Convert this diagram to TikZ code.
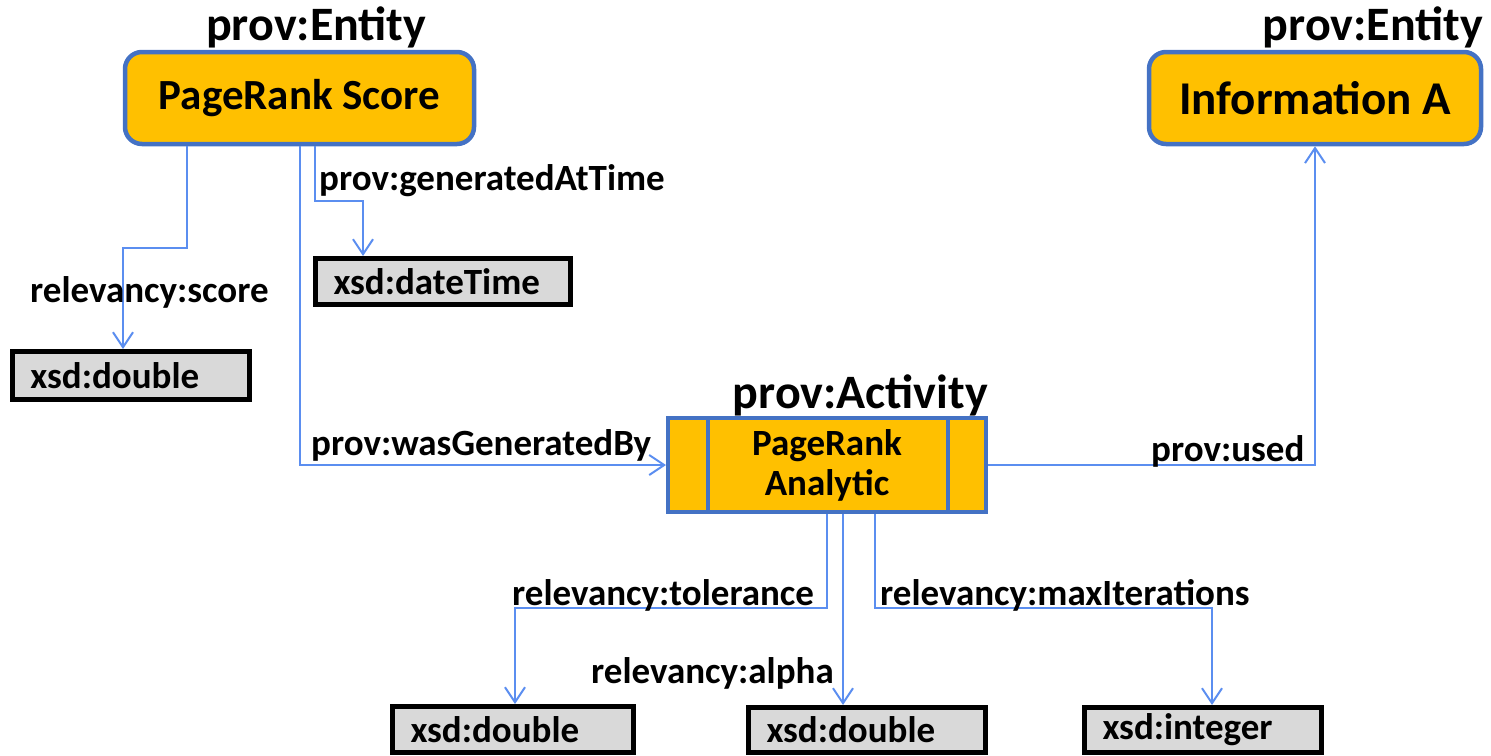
\documentclass[tikz,border=0pt]{standalone}
\usepackage{fontspec}
\setmainfont{Carlito}
\usetikzlibrary{arrows.meta}
\definecolor{gold}{RGB}{255,192,0}
\definecolor{entblue}{RGB}{68,114,196}
\definecolor{lblue}{RGB}{91,142,240}
\definecolor{lgray}{RGB}{217,217,217}
\tikzset{
  ent/.style={draw=entblue, line width=4.5pt, fill=gold, rounded corners=17pt, font=\fontsize{43}{48}\selectfont\bfseries, inner sep=0pt},
  actbox/.style={draw=entblue, line width=4pt, fill=gold, font=\fontsize{37}{40}\selectfont\bfseries, inner sep=0pt, align=center},
  actline/.style={draw=entblue, line width=4pt},
  dt/.style={draw=black, line width=5pt, fill=lgray, font=\fontsize{37}{40}\selectfont\bfseries, inner ysep=0pt, inner xsep=18pt, align=left},
  typ/.style={font=\fontsize{48}{52}\selectfont\bfseries, inner sep=0pt},
  lab/.style={font=\fontsize{37}{40}\selectfont\bfseries, inner sep=0pt},
  conn/.style={draw=lblue, line width=2pt, -{Straight Barb[length=15pt,width=20pt]}}
}
\begin{document}
\begin{tikzpicture}[x=1pt,y=-1pt]
\useasboundingbox (0,0) rectangle (1491,755);
% entity and activity boxes
\node[ent, minimum width=349pt, minimum height=92pt] (prs) at (299.5,98) {\raisebox{-2pt}{PageRank Score}};
\node[ent, minimum width=332pt, minimum height=92pt, font=\fontsize{47}{52}\selectfont\bfseries] (infoA) at (1315,98) {Information A};
\node[actbox, minimum width=318pt, minimum height=94pt] (act) at (827,465) {PageRank\\Analytic};
\draw[actline] ([xshift=42pt]act.north west) -- ([xshift=42pt]act.south west);
\draw[actline] ([xshift=-40pt]act.north east) -- ([xshift=-40pt]act.south east);
% datatype boxes
\node[dt, minimum width=255pt, minimum height=46pt, text width=219pt] (dtime) at (443,281.5) {xsd:dateTime};
\node[dt, minimum width=237pt, minimum height=48pt, text width=201pt] (d1) at (131,375.5) {xsd:double};
\node[dt, minimum width=241pt, minimum height=46pt, text width=205pt] (d2) at (513,729.5) {xsd:double};
\node[dt, minimum width=237pt, minimum height=45pt, text width=201pt] (d3) at (867,730) {xsd:double};
\node[dt, minimum width=237pt, minimum height=45pt, text width=201pt] (di) at (1203,730) {xsd:integer};
% type labels
\node[typ, anchor=base west] (t1) at (206,40) {prov:Entity};
\node[typ, anchor=base east] (t2) at (1483,40) {prov:Entity};
\node[typ, anchor=base east] (t3) at (988,408) {prov:Activity};
% connectors
\draw[conn] ([xshift=-112.5pt]prs.south) -- ++(0,102) -| ([xshift=-8pt]d1.north);
\draw[conn] ([xshift=15.5pt]prs.south) -- ++(0,55) -| ([xshift=-80pt]dtime.north);
\draw[conn] (prs.south) |- (act.west);
\draw[conn] (act.east) -| (infoA.south);
\draw[conn] (act.south) -- ++(0,94) -| ([xshift=2pt]d2.north);
\draw[conn] ([xshift=16pt]act.south) -- ([xshift=-24pt]d3.north);
\draw[conn] ([xshift=48pt]act.south) -- ++(0,94) -| ([xshift=9pt]di.north);
% edge labels
\node[lab, anchor=base west] (l1) at (30,302) {relevancy:score};
\node[lab, anchor=base west] (l2) at (319,190) {prov:generatedAtTime};
\node[lab, anchor=base west] (l3) at (311,455) {prov:wasGeneratedBy};
\node[lab, anchor=base west] (l4) at (1151,461) {prov:used};
\node[lab, anchor=base west] (l5) at (512,605) {relevancy:tolerance};
\node[lab, anchor=base west] (l6) at (880,605) {relevancy:maxIterations};
\node[lab, anchor=base west] (l7) at (591,683) {relevancy:alpha};
\end{tikzpicture}
\end{document}
